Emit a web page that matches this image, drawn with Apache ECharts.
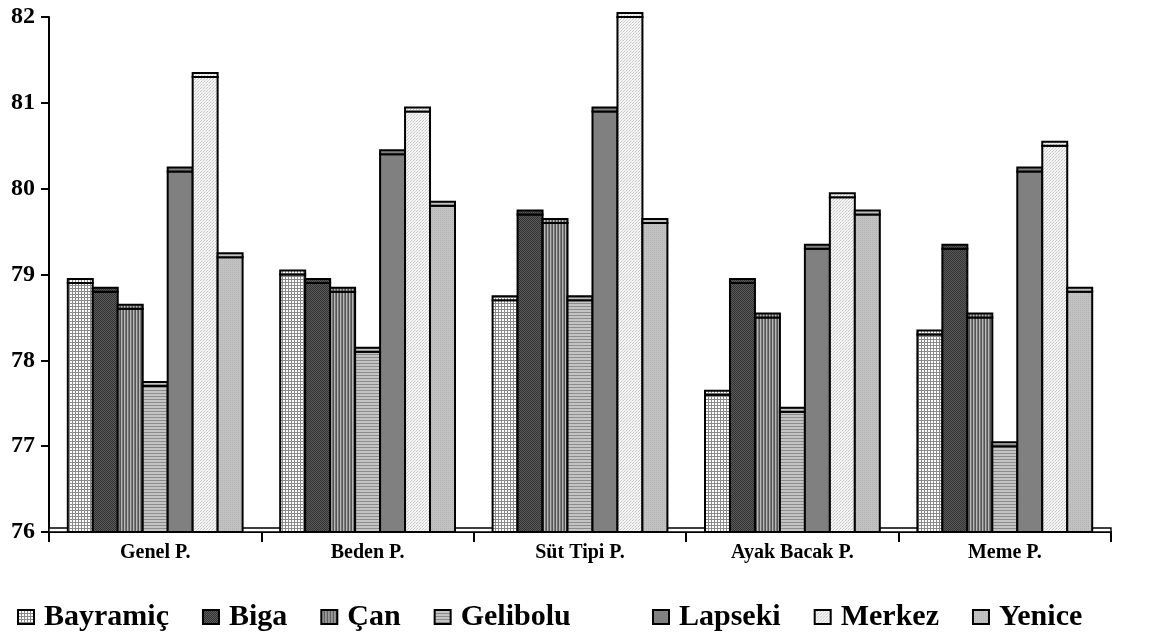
<!DOCTYPE html>
<html>
<head>
<meta charset="utf-8">
<script src="https://cdn.jsdelivr.net/npm/echarts@6/dist/echarts.min.js"></script>
<style>
  html, body { margin: 0; padding: 0; background: #fff; }
  #chart { width: 1154px; height: 643px; }
</style>
</head>
<body>
<div id="chart"></div>
<script>
// Categories (trait scores) and regions
const categories = ['Genel P.', 'Beden P.', 'Süt Tipi P.', 'Ayak Bacak P.', 'Meme P.'];
const regions = ['Bayramiç', 'Biga', 'Çan', 'Gelibolu', 'Lapseki', 'Merkez', 'Yenice'];

// Score per region, one value per category
const bayramic = [78.9, 79.0, 78.7, 77.6, 78.3];
const biga     = [78.8, 78.9, 79.7, 78.9, 79.3];
const can      = [78.6, 78.8, 79.6, 78.5, 78.5];
const gelibolu = [77.7, 78.1, 78.7, 77.4, 77.0];
const lapseki  = [80.2, 80.4, 80.9, 79.3, 80.2];
const merkez   = [81.3, 80.9, 82.0, 79.9, 80.5];
const yenice   = [79.2, 79.8, 79.6, 79.7, 78.8];

const yTicks = [76, 77, 78, 79, 80, 81, 82];

const values = [bayramic, biga, can, gelibolu, lapseki, merkez, yenice];
const Y_MIN = yTicks[0], Y_MAX = yTicks[yTicks.length - 1];
const CAT_GAP = 0.177;   // share of each category band left empty
const TOP_DEPTH = 4;     // height of the bar top face, px
const FONT = '"Liberation Serif", "Times New Roman", serif';

// Small tiled textures for the bar fills
function tile(w, h, draw) {
  const c = document.createElement('canvas');
  c.width = w; c.height = h;
  const g = c.getContext('2d');
  draw(g, w, h);
  return { image: c, repeat: 'repeat' };
}
const patterns = [
  // grid: white cells with grey lines
  tile(3, 3, (g) => { g.fillStyle = '#fff'; g.fillRect(0, 0, 3, 3); g.fillStyle = '#8a8a8a'; g.fillRect(0, 0, 3, 1); g.fillRect(0, 0, 1, 3); }),
  // dark dotted
  tile(2, 2, (g) => { g.fillStyle = '#5a5a5a'; g.fillRect(0, 0, 2, 2); g.fillStyle = '#333'; g.fillRect(0, 0, 1, 1); g.fillRect(1, 1, 1, 1); }),
  // vertical stripes
  tile(3, 1, (g) => { g.fillStyle = '#b8b8b8'; g.fillRect(0, 0, 3, 1); g.fillStyle = '#555'; g.fillRect(0, 0, 1, 1); g.fillStyle = '#7a7a7a'; g.fillRect(2, 0, 1, 1); }),
  // horizontal stripes
  tile(1, 3, (g) => { g.fillStyle = '#c4c4c4'; g.fillRect(0, 0, 1, 3); g.fillStyle = '#8c8c8c'; g.fillRect(0, 0, 1, 1); }),
  // solid grey
  tile(1, 1, (g) => { g.fillStyle = '#808080'; g.fillRect(0, 0, 1, 1); }),
  // very light dots
  tile(3, 3, (g) => { g.fillStyle = '#f4f4f4'; g.fillRect(0, 0, 3, 3); g.fillStyle = '#c8c8c8'; g.fillRect(0, 0, 1, 1); g.fillRect(2, 1, 1, 1); g.fillStyle = '#dddddd'; g.fillRect(1, 2, 1, 1); }),
  // light grey, faint dots
  tile(2, 2, (g) => { g.fillStyle = '#c2c2c2'; g.fillRect(0, 0, 2, 2); g.fillStyle = '#b4b4b4'; g.fillRect(0, 0, 1, 1); })
];

// Bar with a shallow top face; geometry comes from the category band and value scale
function barRenderer(seriesIndex) {
  return function (params, api) {
    const cat = api.value(0);
    const val = api.value(1);
    const band = api.size([1, 0])[0];
    const used = band * (1 - CAT_GAP);
    const barW = used / regions.length;
    const top = api.coord([cat, val]);
    const base = api.coord([cat, Y_MIN]);
    const x = top[0] - used / 2 + seriesIndex * barW;
    const fill = patterns[seriesIndex];
    return {
      type: 'group',
      children: [
        {
          type: 'rect',
          shape: { x: x, y: top[1], width: barW, height: base[1] - top[1] },
          style: { fill: fill, stroke: '#000', lineWidth: 2 }
        },
        {
          type: 'rect',
          shape: { x: x, y: top[1] - TOP_DEPTH, width: barW, height: TOP_DEPTH },
          style: { fill: fill, stroke: '#000', lineWidth: 2 }
        }
      ]
    };
  };
}

// Floor edge running along the baseline behind the bars
function floorRenderer(params, api) {
  const cs = params.coordSys;
  const y = api.coord([0, Y_MIN])[1];
  return {
    type: 'rect',
    shape: { x: cs.x, y: y - TOP_DEPTH, width: cs.width, height: TOP_DEPTH },
    style: { fill: '#fff', stroke: '#000', lineWidth: 1.4 }
  };
}

const series = [{
  name: 'floor',
  type: 'custom',
  renderItem: floorRenderer,
  data: [[0, Y_MIN]],
  silent: true,
  z: 1
}];
regions.forEach((name, i) => {
  series.push({
    name: name,
    type: 'custom',
    renderItem: barRenderer(i),
    itemStyle: { color: patterns[i], borderColor: '#000', borderWidth: 1.5 },
    data: values[i].map((v, c) => [c, v]),
    z: 2
  });
});

const legendText = {
  fontFamily: FONT,
  fontWeight: 'bold',
  fontSize: 30,
  color: '#000',
  padding: [0, 0, 0, 5]
};
const legendBase = {
  top: 597,
  icon: 'rect',
  itemWidth: 16,
  itemHeight: 14,
  itemGap: 33,
  textStyle: legendText
};

const chart = echarts.init(document.getElementById('chart'), null, { renderer: 'canvas' });
chart.setOption({
  animation: false,
  backgroundColor: '#fff',
  grid: { left: 49, right: 43, top: 17, bottom: 111 },
  legend: [
    Object.assign({ data: regions.slice(0, 4), left: 12 }, legendBase),
    Object.assign({ data: regions.slice(4), left: 647 }, legendBase)
  ],
  xAxis: {
    type: 'category',
    data: categories,
    boundaryGap: true,
    axisLine: { lineStyle: { color: '#000', width: 2 } },
    axisTick: { show: true, length: 10, lineStyle: { color: '#000', width: 2 } },
    axisLabel: {
      margin: 11,
      fontFamily: FONT,
      fontWeight: 'bold',
      fontSize: 20,
      color: '#000'
    },
    splitLine: { show: false }
  },
  yAxis: {
    type: 'value',
    min: Y_MIN,
    max: Y_MAX,
    interval: 1,
    axisLine: { show: true, lineStyle: { color: '#000', width: 2 } },
    axisTick: { show: true, length: 8, lineStyle: { color: '#000', width: 2 } },
    axisLabel: {
      margin: 14,
      fontFamily: FONT,
      fontWeight: 'bold',
      fontSize: 24,
      color: '#000',
      formatter: (v) => (yTicks.indexOf(v) >= 0 ? String(v) : '')
    },
    splitLine: { show: false }
  },
  series: series
});
</script>
</body>
</html>
